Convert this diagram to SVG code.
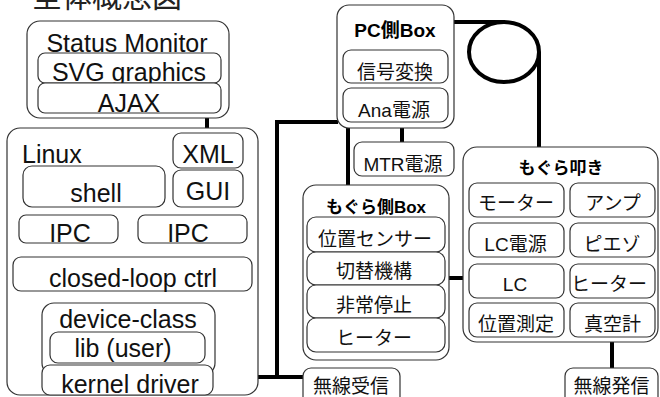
<svg xmlns="http://www.w3.org/2000/svg" width="660" height="397" viewBox="0 0 660 397">
  <style>
    .box { fill: #fff; stroke: #333; stroke-width: 1.2; }
    .wire { fill: none; stroke: #000; stroke-width: 4; }
    .lat { font-family: "Liberation Sans", Arial, sans-serif; font-size: 25px; fill: #111; text-anchor: middle; }
    .jp { font-family: "Liberation Sans", "Noto Sans CJK JP", sans-serif; font-size: 19px; fill: #111; text-anchor: middle; }
    .hd { font-family: "Liberation Sans", "Noto Sans CJK JP", sans-serif; font-size: 17px; font-weight: bold; fill: #000; text-anchor: middle; }
  </style>

  <!-- title -->
  <text x="32" y="7" font-family="'Noto Sans CJK JP', sans-serif" font-size="30" fill="#222">全体概念図</text>

  <!-- connectors -->
  <g id="connectors">
    <line class="wire" x1="207" y1="118" x2="207" y2="134"/>
    <line class="wire" x1="31" y1="207" x2="31" y2="216"/>
    <line class="wire" x1="208" y1="207" x2="208" y2="216"/>
    <line class="wire" x1="75" y1="243" x2="75" y2="258"/>
    <line class="wire" x1="185" y1="243" x2="185" y2="258"/>
    <line class="wire" x1="129" y1="291" x2="129" y2="304"/>
    <polyline class="wire" points="213,377 303,377"/>
    <polyline class="wire" points="277,377 277,122 338,122"/>
    <line class="wire" x1="348" y1="128" x2="348" y2="186"/>
    <line class="wire" x1="402" y1="128" x2="402" y2="143"/>
    <line class="wire" x1="449" y1="278" x2="464" y2="278"/>
    <path class="wire" d="M454,22 H505"/>
    <ellipse class="wire" cx="504" cy="52" rx="35" ry="30"/>
    <line class="wire" x1="539" y1="52" x2="539" y2="148"/>
    <line class="wire" x1="612" y1="337" x2="612" y2="369"/>
  </g>

  <!-- Status Monitor -->
  <g id="status-monitor">
    <rect class="box" x="27" y="21" width="202" height="97" rx="13"/>
    <text class="lat" x="127" y="52">Status Monitor</text>
    <rect class="box" x="38" y="53" width="183" height="30" rx="7"/>
    <text class="lat" x="129" y="81">SVG graphics</text>
    <rect class="box" x="38" y="83" width="183" height="30" rx="7"/>
    <text class="lat" x="129" y="111.5">AJAX</text>
  </g>

  <!-- Linux -->
  <g id="linux">
    <rect class="box" x="7" y="128" width="251" height="267" rx="13"/>
    <text class="lat" x="22" y="163" style="text-anchor:start">Linux</text>
  </g>
  <g id="xml">
    <rect class="box" x="173" y="133" width="70" height="35" rx="8"/>
    <text class="lat" x="208" y="163">XML</text>
  </g>
  <g id="gui">
    <rect class="box" x="173" y="170" width="70" height="37" rx="8"/>
    <text class="lat" x="208" y="200">GUI</text>
  </g>
  <g id="shell">
    <rect class="box" x="23" y="166" width="142" height="41" rx="9"/>
    <text class="lat" x="96" y="202">shell</text>
  </g>
  <g id="ipc-left">
    <rect class="box" x="19" y="215" width="99" height="28" rx="7"/>
    <text class="lat" x="70" y="242">IPC</text>
  </g>
  <g id="ipc-right">
    <rect class="box" x="138" y="215" width="109" height="28" rx="7"/>
    <text class="lat" x="188" y="242">IPC</text>
  </g>
  <g id="closed-loop">
    <rect class="box" x="13" y="257" width="239" height="34" rx="8"/>
    <text class="lat" x="133" y="287">closed-loop ctrl</text>
  </g>
  <g id="device-class">
    <rect class="box" x="42" y="303" width="173" height="72" rx="12"/>
    <text class="lat" x="128" y="328">device-class</text>
    <rect class="box" x="50" y="332" width="155" height="31" rx="8"/>
    <text class="lat" x="123" y="357">lib (user)</text>
  </g>
  <g id="kernel-driver">
    <rect class="box" x="42" y="365" width="171" height="30" rx="8"/>
    <text class="lat" x="130" y="393">kernel driver</text>
  </g>

  <!-- PC side box -->
  <g id="pc-box">
    <rect class="box" x="337" y="5" width="117" height="123" rx="12"/>
    <text class="hd" x="395" y="37" style="font-size:19px">PC側Box</text>
    <rect class="box" x="343" y="50" width="105" height="33" rx="8"/>
    <text class="jp" x="395" y="79">信号変換</text>
    <rect class="box" x="343" y="88" width="105" height="34" rx="8"/>
    <text class="jp" x="394" y="116.5">Ana電源</text>
  </g>
  <g id="mtr-power">
    <rect class="box" x="354" y="142" width="100" height="34" rx="8"/>
    <text class="jp" x="403" y="171">MTR電源</text>
  </g>

  <!-- mole side box -->
  <g id="mole-box">
    <rect class="box" x="303" y="185" width="146" height="175" rx="13"/>
    <text class="hd" x="376" y="213">もぐら側Box</text>
    <rect class="box" x="307" y="217" width="138" height="35" rx="9"/>
    <text class="jp" x="375" y="246">位置センサー</text>
    <rect class="box" x="307" y="252" width="138" height="33" rx="9"/>
    <text class="jp" x="374" y="278">切替機構</text>
    <rect class="box" x="307" y="285" width="138" height="33" rx="9"/>
    <text class="jp" x="374" y="312">非常停止</text>
    <rect class="box" x="307" y="318" width="138" height="34" rx="9"/>
    <text class="jp" x="374" y="345">ヒーター</text>
  </g>
  <g id="rx">
    <rect class="box" x="303" y="368" width="97" height="40" rx="8"/>
    <text class="jp" x="351" y="393">無線受信</text>
  </g>

  <!-- whack-a-mole unit -->
  <g id="whack">
    <rect class="box" x="463" y="147" width="195" height="195" rx="14"/>
    <text class="hd" x="561" y="174">もぐら叩き</text>
    <rect class="box" x="469" y="183" width="95" height="34" rx="8"/>
    <text class="jp" x="516" y="210">モーター</text>
    <rect class="box" x="570" y="183" width="85" height="34" rx="8"/>
    <text class="jp" x="613" y="210">アンプ</text>
    <rect class="box" x="469" y="223" width="95" height="34" rx="8"/>
    <text class="jp" x="515.5" y="251">LC電源</text>
    <rect class="box" x="570" y="223" width="85" height="34" rx="8"/>
    <text class="jp" x="612" y="251">ピエゾ</text>
    <rect class="box" x="469" y="264" width="95" height="34" rx="8"/>
    <text class="jp" x="515" y="291">LC</text>
    <rect class="box" x="570" y="264" width="85" height="34" rx="8"/>
    <text class="jp" x="609" y="291">ヒーター</text>
    <rect class="box" x="469" y="303" width="95" height="34" rx="8"/>
    <text class="jp" x="516" y="331">位置測定</text>
    <rect class="box" x="570" y="303" width="85" height="34" rx="8"/>
    <text class="jp" x="612.5" y="331">真空計</text>
  </g>
  <g id="tx">
    <rect class="box" x="565" y="368" width="93" height="40" rx="8"/>
    <text class="jp" x="611.5" y="393">無線発信</text>
  </g>
</svg>
